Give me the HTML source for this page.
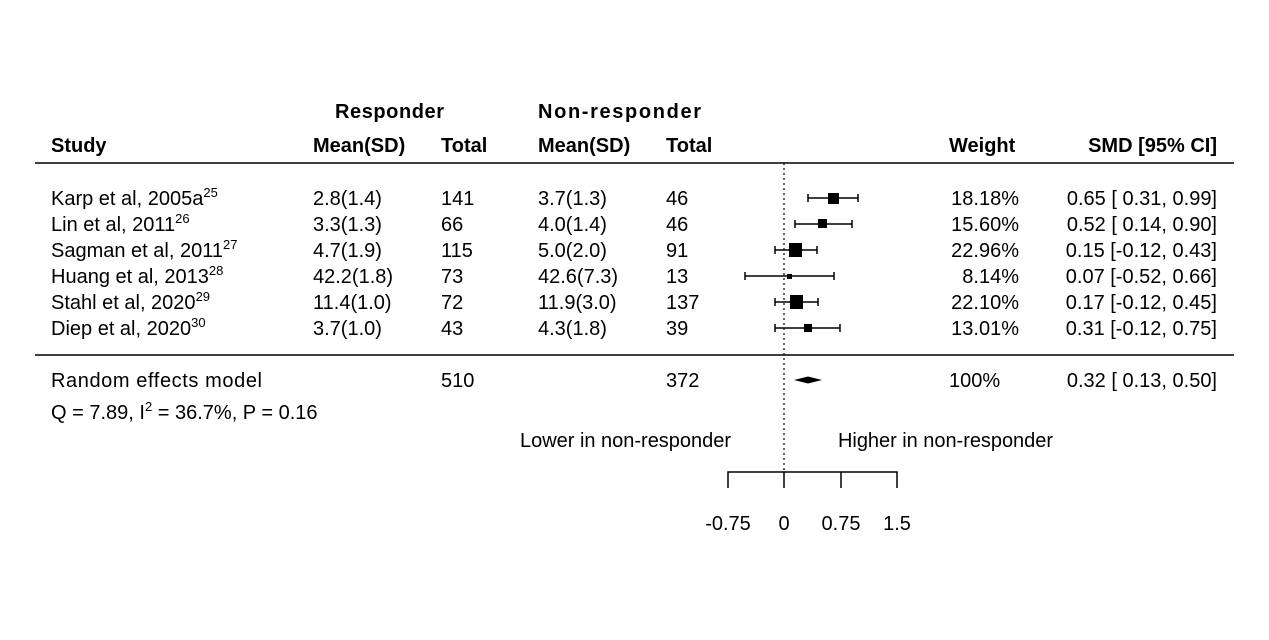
<!DOCTYPE html>
<html><head><meta charset="utf-8"><style>
body{margin:0;background:#fff}
svg text{font-family:"Liberation Sans",Arial,sans-serif;font-size:20px;fill:#000}
.b{font-weight:bold}
</style></head><body>
<svg width="1269" height="635" viewBox="0 0 1269 635" xmlns="http://www.w3.org/2000/svg">
<rect width="1269" height="635" fill="#fff"/>
<g class="b">
<text x="335" y="118" class="b" textLength="109">Responder</text>
<text x="538" y="118" class="b" textLength="163">Non-responder</text>
<text x="51" y="152" class="b">Study</text>
<text x="313" y="152" class="b">Mean(SD)</text>
<text x="441" y="152" class="b">Total</text>
<text x="538" y="152" class="b">Mean(SD)</text>
<text x="666" y="152" class="b">Total</text>
<text x="949" y="152" class="b">Weight</text>
<text x="1217" y="152" class="b" text-anchor="end">SMD [95% CI]</text>
</g>
<line x1="35" y1="163" x2="1234" y2="163" stroke="#000" stroke-width="1.6"/>
<line x1="35" y1="355" x2="1234" y2="355" stroke="#000" stroke-width="1.6"/>
<line x1="784" y1="163" x2="784" y2="472" stroke="#000" stroke-width="1.2" stroke-dasharray="2,3"/>
<g>
<text x="51" y="205">Karp et al, 2005a<tspan dy="-8" font-size="13">25</tspan></text>
<text x="51" y="231">Lin et al, 2011<tspan dy="-8" font-size="13">26</tspan></text>
<text x="51" y="257">Sagman et al, 2011<tspan dy="-8" font-size="13">27</tspan></text>
<text x="51" y="283">Huang et al, 2013<tspan dy="-8" font-size="13">28</tspan></text>
<text x="51" y="309">Stahl et al, 2020<tspan dy="-8" font-size="13">29</tspan></text>
<text x="51" y="335">Diep et al, 2020<tspan dy="-8" font-size="13">30</tspan></text>
<text x="313" y="205">2.8(1.4)</text><text x="441" y="205">141</text><text x="538" y="205">3.7(1.3)</text><text x="666" y="205">46</text>
<text x="313" y="231">3.3(1.3)</text><text x="441" y="231">66</text><text x="538" y="231">4.0(1.4)</text><text x="666" y="231">46</text>
<text x="313" y="257">4.7(1.9)</text><text x="441" y="257">115</text><text x="538" y="257">5.0(2.0)</text><text x="666" y="257">91</text>
<text x="313" y="283">42.2(1.8)</text><text x="441" y="283">73</text><text x="538" y="283">42.6(7.3)</text><text x="666" y="283">13</text>
<text x="313" y="309">11.4(1.0)</text><text x="441" y="309">72</text><text x="538" y="309">11.9(3.0)</text><text x="666" y="309">137</text>
<text x="313" y="335">3.7(1.0)</text><text x="441" y="335">43</text><text x="538" y="335">4.3(1.8)</text><text x="666" y="335">39</text>
<g text-anchor="end">
<text x="1019" y="205">18.18%</text><text x="1217" y="205">0.65 [ 0.31, 0.99]</text>
<text x="1019" y="231">15.60%</text><text x="1217" y="231">0.52 [ 0.14, 0.90]</text>
<text x="1019" y="257">22.96%</text><text x="1217" y="257">0.15 [-0.12, 0.43]</text>
<text x="1019" y="283">8.14%</text><text x="1217" y="283">0.07 [-0.52, 0.66]</text>
<text x="1019" y="309">22.10%</text><text x="1217" y="309">0.17 [-0.12, 0.45]</text>
<text x="1019" y="335">13.01%</text><text x="1217" y="335">0.31 [-0.12, 0.75]</text>
<text x="1217" y="387">0.32 [ 0.13, 0.50]</text>
</g>
<text x="51" y="387" textLength="211">Random effects model</text>
<text x="441" y="387">510</text><text x="666" y="387">372</text>
<text x="949" y="387">100%</text>
<text x="51" y="419">Q = 7.89, I<tspan dy="-8" font-size="13">2</tspan><tspan dy="8"> = 36.7%, P = 0.16</tspan></text>
<text x="520" y="447" textLength="211">Lower in non-responder</text>
<text x="838" y="447" textLength="215">Higher in non-responder</text>
</g>
<g stroke="#000" stroke-width="1.5">
<line x1="808" y1="198" x2="858" y2="198"/><line x1="808" y1="194" x2="808" y2="202"/><line x1="858" y1="194" x2="858" y2="202"/>
<line x1="795" y1="224" x2="852" y2="224"/><line x1="795" y1="220" x2="795" y2="228"/><line x1="852" y1="220" x2="852" y2="228"/>
<line x1="775" y1="250" x2="817" y2="250"/><line x1="775" y1="246" x2="775" y2="254"/><line x1="817" y1="246" x2="817" y2="254"/>
<line x1="745" y1="276" x2="834" y2="276"/><line x1="745" y1="272" x2="745" y2="280"/><line x1="834" y1="272" x2="834" y2="280"/>
<line x1="775" y1="302" x2="818" y2="302"/><line x1="775" y1="298" x2="775" y2="306"/><line x1="818" y1="298" x2="818" y2="306"/>
<line x1="775" y1="328" x2="840" y2="328"/><line x1="775" y1="324" x2="775" y2="332"/><line x1="840" y1="324" x2="840" y2="332"/>
</g>
<g fill="#000">
<rect x="828" y="193" width="11" height="11"/>
<rect x="818" y="219" width="9" height="9"/>
<rect x="789" y="243" width="13" height="14"/>
<rect x="787" y="274" width="5" height="5"/>
<rect x="790" y="295" width="13" height="14"/>
<rect x="804" y="324" width="8" height="8"/>
<polygon points="794,380 808,376.5 822,380 808,383.5"/>
</g>
<g stroke="#000" stroke-width="1.5" fill="none">
<path d="M728,488 V472 H897 V488 M784,472 V488 M841,472 V488"/>
</g>
<g text-anchor="middle">
<text x="728" y="530">-0.75</text><text x="784" y="530">0</text><text x="841" y="530">0.75</text><text x="897" y="530">1.5</text>
</g>
</svg>
</body></html>
